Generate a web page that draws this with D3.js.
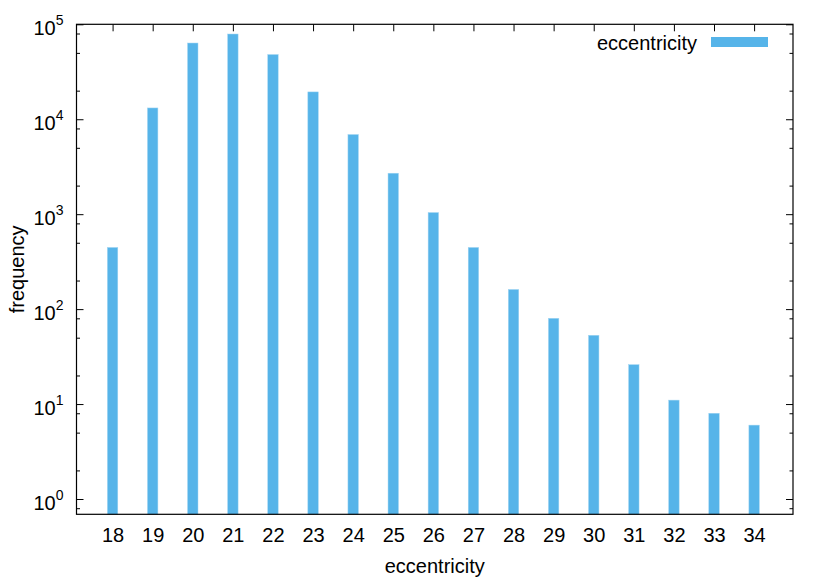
<!DOCTYPE html>
<html>
<head>
<meta charset="utf-8">
<script src="https://cdn.jsdelivr.net/npm/d3@7"></script>
<style>
  html, body { margin: 0; padding: 0; background: #fff; }
  svg { display: block; }
  text { font-family: "Liberation Sans", Arial, Helvetica, sans-serif; fill: #000; }
</style>
</head>
<body>
<svg id="chart" width="830" height="581"></svg>
<script>
// ---- data ----
const categories = [18, 19, 20, 21, 22, 23, 24, 25, 26, 27, 28, 29, 30, 31, 32, 33, 34];
const frequency  = [446, 13150, 63500, 79000, 48000, 19400, 6900, 2700, 1040, 446, 161, 80, 53, 26, 11, 8, 6];
const yMajorTicks = [1, 10, 100, 1000, 10000, 100000];
const yMinorFactors = [2, 5, 8];
const seriesName = "eccentricity";
const xTitle = "eccentricity";
const yTitle = "frequency";

// ---- layout ----
const pLeft = 76.5, pRight = 793, pTop = 24.3, pBottom = 514.3;
const barColor = "#56B4E9";

const svg = d3.select("#chart");

const x = d3.scaleLinear().domain([17.1, 34.97]).range([pLeft, pRight]);
const y = d3.scaleLog().domain([0.69, 100000]).range([pBottom, pTop]);

// minor tick values
const minorTicks = [];
for (const m of [0.1, 1, 10, 100, 1000, 10000]) {
  for (const f of yMinorFactors) {
    const v = m * f;
    if (v >= y.domain()[0] && v <= y.domain()[1]) minorTicks.push(v);
  }
}

const g = svg.append("g");

// ---- ticks (inward, mirrored) ----
const tickStroke = "#000";
const majLen = 7, minLen = 3.5;

const xAxisBottom = d3.axisBottom(x).tickValues(categories).tickSize(-majLen).tickFormat(d => d).tickPadding(14);
const xAxisTop = d3.axisTop(x).tickValues(categories).tickSize(-majLen).tickFormat("");
const gxb = g.append("g").attr("transform", `translate(0,${pBottom})`).call(xAxisBottom);
const gxt = g.append("g").attr("transform", `translate(0,${pTop})`).call(xAxisTop);

const yAxisLeft = d3.axisLeft(y).tickValues(yMajorTicks).tickSize(-majLen).tickFormat("");
const yAxisRight = d3.axisRight(y).tickValues(yMajorTicks).tickSize(-majLen).tickFormat("");
const gyl = g.append("g").attr("transform", `translate(${pLeft},0)`).call(yAxisLeft);
const gyr = g.append("g").attr("transform", `translate(${pRight},0)`).call(yAxisRight);
const yMinLeft = d3.axisLeft(y).tickValues(minorTicks).tickSize(-minLen).tickFormat("");
const yMinRight = d3.axisRight(y).tickValues(minorTicks).tickSize(-minLen).tickFormat("");
const gyl2 = g.append("g").attr("transform", `translate(${pLeft},0)`).call(yMinLeft);
const gyr2 = g.append("g").attr("transform", `translate(${pRight},0)`).call(yMinRight);

[gxb, gxt, gyl, gyr, gyl2, gyr2].forEach(a => {
  a.select(".domain").remove();
  a.selectAll(".tick line").attr("stroke", tickStroke).attr("stroke-width", 1);
});
gxb.selectAll(".tick text")
  .attr("font-size", 20)
  .attr("font-family", "Liberation Sans, Arial, sans-serif")
  .attr("fill", "#000");

// y tick labels: 10^n with superscript
const ylab = g.append("g");
yMajorTicks.forEach(v => {
  const e = Math.round(Math.log10(v));
  const t = ylab.append("text")
    .attr("x", 63.5)
    .attr("y", y(v) + 10.5)
    .attr("text-anchor", "end")
    .attr("font-size", 20);
  t.append("tspan").text("10");
  t.append("tspan").attr("font-size", 14).attr("dy", -9.5).text(String(e));
});

// ---- bars ----
const barW = x(0.26) - x(0);
g.append("g").selectAll("rect")
  .data(categories.map((c, i) => ({ c, v: frequency[i] })))
  .join("rect")
  .attr("x", d => x(d.c) - barW / 2)
  .attr("y", d => y(d.v))
  .attr("width", barW)
  .attr("height", d => pBottom - y(d.v))
  .attr("fill", barColor)
  .attr("stroke", "#9fd4f2")
  .attr("stroke-width", 0.5);

// ---- frame ----
g.append("rect")
  .attr("x", pLeft).attr("y", pTop)
  .attr("width", pRight - pLeft).attr("height", pBottom - pTop)
  .attr("fill", "none").attr("stroke", "#000").attr("stroke-width", 1.2);

// ---- axis titles ----
svg.append("text")
  .attr("x", (pLeft + pRight) / 2)
  .attr("y", 573)
  .attr("text-anchor", "middle")
  .attr("font-size", 20)
  .text(xTitle);

svg.append("text")
  .attr("transform", `translate(24,${(pTop + pBottom) / 2}) rotate(-90)`)
  .attr("text-anchor", "middle")
  .attr("font-size", 20)
  .text(yTitle);

// ---- legend ----
svg.append("text")
  .attr("x", 697)
  .attr("y", 50)
  .attr("text-anchor", "end")
  .attr("font-size", 20)
  .text(seriesName);
svg.append("rect")
  .attr("x", 711).attr("y", 37)
  .attr("width", 57).attr("height", 10)
  .attr("fill", barColor);
</script>
</body>
</html>
